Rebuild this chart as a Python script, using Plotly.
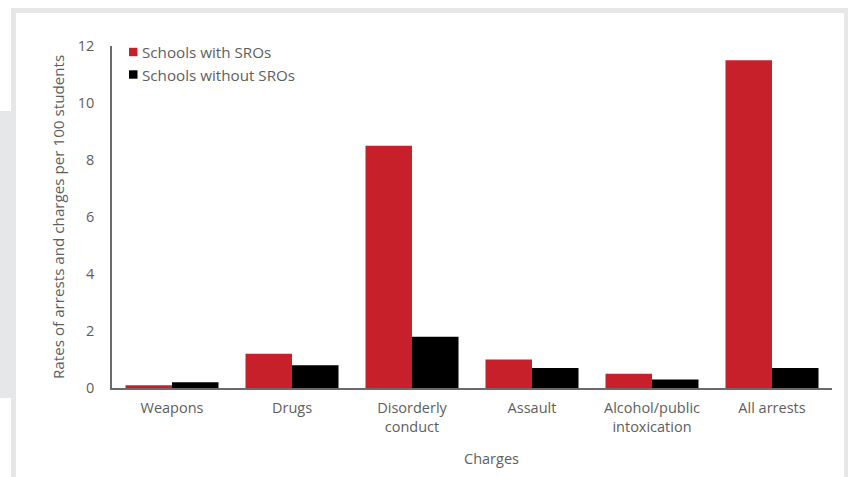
import plotly.graph_objects as go

# Arrest and charge rates per 100 students, by charge type
categories = ["Weapons", "Drugs", "Disorderly<br>conduct", "Assault",
              "Alcohol/public<br>intoxication", "All arrests"]
series_names = ["Schools with SROs", "Schools without SROs"]
with_sro = [0.1, 1.2, 8.5, 1.0, 0.5, 11.5]
without_sro = [0.2, 0.8, 1.8, 0.7, 0.3, 0.7]
y_ticks = [0, 2, 4, 6, 8, 10, 12]

RED = "#c8202a"
BLACK = "#000000"
TEXT = "#5e5e5e"
AXIS = "#6b6b6b"
FRAME = "#e6e7e8"
FONT = "'Open Sans', sans-serif"

W, H = 848, 477
L, R, T, B = 112, 16, 46, 89
PW, PH = W - L - R, H - T - B


def px(x):
    return (x - L) / PW


def py(y):
    return (H - B - y) / PH


fig = go.Figure()
for name, vals, col in zip(series_names, [with_sro, without_sro], [RED, BLACK]):
    fig.add_trace(go.Bar(name=name, x=categories, y=vals,
                         marker=dict(color=col, line_width=0),
                         showlegend=False))

shapes = [
    # grey card border
    dict(type="rect", xref="paper", yref="paper", layer="below",
         x0=px(11), x1=px(W), y0=py(8), y1=py(H),
         fillcolor=FRAME, line_width=0),
    # white card body
    dict(type="rect", xref="paper", yref="paper", layer="below",
         x0=px(16), x1=px(844), y0=py(13), y1=py(H),
         fillcolor="white", line_width=0),
    # side tab on the left
    dict(type="rect", xref="paper", yref="paper", layer="below",
         x0=px(0), x1=px(11), y0=py(111), y1=py(398),
         fillcolor=FRAME, line_width=0),
]

annotations = [
    dict(text="Rates of arrests and charges per 100 students",
         xref="paper", yref="paper", x=px(58), y=py(217), textangle=-90,
         xanchor="center", yanchor="middle",
         showarrow=False, font=dict(size=15.2, color=TEXT, family=FONT)),
    dict(text="Charges", xref="paper", yref="paper", x=px(491), y=py(459),
         xanchor="center", yanchor="middle",
         showarrow=False, font=dict(size=14.5, color=TEXT, family=FONT)),
]

# key: small colour squares with the series names beside them
for i, (name, col) in enumerate(zip(series_names, [RED, BLACK])):
    cy = 52 + 22.5 * i
    shapes.append(dict(type="rect", xref="paper", yref="paper",
                       x0=px(129), x1=px(137.5), y0=py(cy - 4.2),
                       y1=py(cy + 4.2), fillcolor=col, line_width=0))
    annotations.append(dict(text=name, xref="paper", yref="paper",
                            x=px(140), y=py(cy), xanchor="left",
                            yanchor="middle", showarrow=False,
                            font=dict(size=15.2, color=TEXT, family=FONT)))

fig.update_layout(
    width=W, height=H,
    margin=dict(l=L, r=R, t=T, b=B, pad=0),
    paper_bgcolor="white", plot_bgcolor="rgba(0,0,0,0)",
    barmode="group", bargap=0.225, bargroupgap=0,
    font=dict(family=FONT, size=14.5, color=TEXT),
    shapes=shapes, annotations=annotations,
)
fig.update_xaxes(showline=True, linecolor=AXIS, linewidth=1.5,
                 showgrid=False, ticks="", ticklabelstandoff=6,
                 tickfont=dict(size=14.5, color=TEXT), fixedrange=True)
fig.update_yaxes(range=[0, 12], tickvals=y_ticks, showline=True,
                 linecolor=AXIS, linewidth=1.5, showgrid=False,
                 zeroline=False, ticks="", ticklabelstandoff=13,
                 tickfont=dict(size=14.5, color=TEXT), fixedrange=True)

fig.write_html("out.html")
